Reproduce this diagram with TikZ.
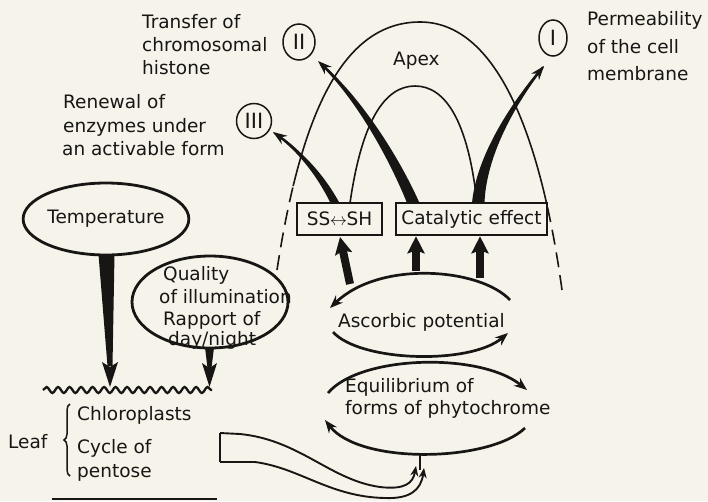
\documentclass[tikz,border=0pt]{standalone}
\usepackage{fontspec}
\setmainfont{DejaVu Sans}
\usetikzlibrary{arrows.meta,decorations.pathmorphing,decorations.pathreplacing,calc,shapes.geometric}
\definecolor{paper}{RGB}{246,243,234}
\definecolor{ink}{RGB}{24,22,20}
\begin{document}
\begin{tikzpicture}[x=1pt,y=-1pt, color=ink,
  txt/.style={inner sep=0pt, anchor=base west, text=ink, font=\fontsize{18.5}{22}\selectfont},
  oval/.style={draw=ink, ellipse, line width=2.8pt, inner sep=0pt, text=ink, font=\fontsize{18.5}{22}\selectfont},
  roman/.style={draw=ink, ellipse, line width=1.5pt, inner sep=0pt, text=ink, font=\fontsize{21}{21}\selectfont},
  box/.style={draw=ink, rectangle, line width=2.6pt, inner sep=0pt, text=ink, font=\fontsize{18.5}{22}\selectfont},
  arcline/.style={draw=ink, line width=1.6pt},
  dashline/.style={draw=ink, line width=1.6pt, dash pattern=on 15pt off 8pt},
  flow/.style={draw=ink, line width=2.7pt, -{Stealth[length=13pt,width=10pt]}},
  fat/.style={draw=ink, line width=8pt, -{Stealth[length=17pt,width=17pt,inset=3pt]}},
  tip/.style={draw=ink, line width=2pt, -{Stealth[length=14pt,width=10pt]}},
  thin/.style={draw=ink, line width=1.9pt},
  thinarrow/.style={draw=ink, line width=1.9pt, -{Stealth[length=10pt,width=8pt]}}]

\fill[paper] (0,0) rectangle (708,501);
\useasboundingbox (0,0) rectangle (708,501);

% ---------- upper left texts ----------
\node[txt] (tr1) at (142,28) {Transfer of};
\node[txt] (tr2) at (142,51) {chromosomal};
\node[txt] (tr3) at (142,74) {histone};
\node[txt] (rn1) at (63,108) {Renewal of};
\node[txt] (rn2) at (63,132) {enzymes under};
\node[txt] (rn3) at (62,155) {an activable form};
\node[txt] (pm1) at (587,25) {Permeability};
\node[txt] (pm2) at (587,53) {of the cell};
\node[txt] (pm3) at (587,80) {membrane};
\node[txt] (apex) at (393,65) {Apex};

% ---------- roman circles ----------
\node[roman, minimum width=28pt, minimum height=36pt] (c1) at (553,38) {I};
\node[roman, minimum width=32pt, minimum height=36pt] (c2) at (299,42) {II};
\node[roman, minimum width=35pt, minimum height=35pt] (c3) at (254,121) {III};

% ---------- apex arcs ----------
\begin{scope}
  \clip (0,0) -- (708,0) -- (708,205) -- (420,205) -- (420,186) -- (0,186) -- cycle;
  \draw[arcline] (277,270) .. controls (300,120) and (340,22) .. (420,22)
                 .. controls (495,22) and (540,130) .. (562,290);
\end{scope}
\begin{scope}
  \clip (0,186) -- (420,186) -- (420,205) -- (708,205) -- (708,501) -- (0,501) -- cycle;
  \draw[dashline] (277,270) .. controls (300,120) and (340,22) .. (420,22);
  \draw[dashline] (562,290) .. controls (540,130) and (495,22) .. (420,22);
\end{scope}
\draw[arcline] (350,203) .. controls (362,120) and (385,86) .. (415,86)
               .. controls (445,86) and (468,120) .. (477,203);

% ---------- boxes ----------
\node[box, minimum width=85pt, minimum height=32pt] (ss) at (339.5,219)
  {SS\kern-0.5pt\raisebox{0.5pt}{\fontsize{17}{17}\selectfont$\leftrightarrow$}\kern-0.5pt SH};
\node[box, minimum width=151pt, minimum height=32pt] (cat) at (471.5,219) {Catalytic effect};

% ---------- tapered curved arrows ----------
\coordinate (b3) at (335,203);
\coordinate (t3) at (273,132);
\draw[tip] (b3) .. controls (322,178) and (302,152) .. (t3);
\fill[ink] (330.5,203) .. controls (318.9,179.6) and (301,153.1) .. (273.5,133.5)
  -- (274.5,132.5) .. controls (303,150.9) and (325.1,176.4) .. (339.5,203) -- cycle;

\coordinate (b2) at (413,203);
\coordinate (t2) at (318,61);
\draw[tip] (b2) .. controls (395,160) and (360,100) .. (t2);
\fill[ink] (407,203) .. controls (390.5,162) and (358,101) .. (320.3,64.7)
  -- (321.7,63.3) .. controls (362.5,99) and (399.5,158) .. (419.5,203) -- cycle;

\coordinate (b1) at (478,203);
\coordinate (t1) at (544,66);
\draw[tip] (b1) .. controls (481,160) and (508,110) .. (t1);
\fill[ink] (472,203) .. controls (476,159.7) and (506,108.9) .. (542.2,66.4)
  -- (543.8,67.6) .. controls (510,111.1) and (486,160.3) .. (484.5,203) -- cycle;

% ---------- ascorbic / phytochrome loops ----------
\coordinate (a1) at (350,284);
\coordinate (a2) at (416,271);
\coordinate (a3) at (480,278);
\draw[fat] (a1) -- (340,237);
\draw[fat] (a2) -- (a2 |- ss.south);
\draw[fat] (a3) -- (a3 |- cat.south);

\draw[flow] (510,300) .. controls (480,268) and (380,260) .. (330,308);
\node[txt] (asc) at (338,327) {Ascorbic potential};
\draw[flow] (333,332) .. controls (360,362) and (470,365) .. (508,333);

\draw[flow] (328,393) .. controls (360,355) and (480,352) .. (527,390);
\node[txt] (eq1) at (345,392) {Equilibrium of};
\node[txt] (eq2) at (345,414) {forms of phytochrome};
\draw[flow] (525,428) .. controls (490,462) and (360,465) .. (325,420);

% ---------- left: temperature & illumination ----------
\node[oval, minimum width=138pt, minimum height=72pt] (temp) at (106,219) {Temperature};
\node[oval, minimum width=156pt, minimum height=92pt] (qual) at (210,302) {};
\node[txt] (q1) at (163,280) {Quality};
\node[txt] (q2) at (159,303) {of illumination};
\node[txt] (q3) at (163,325) {Rapport of};
\node[txt] (q4) at (168,345) {day/night};

\coordinate (w1) at (110,387);
\coordinate (w2) at (209.5,387);
\fill[ink] ($(temp.south)+(-7.5,-2)$) -- ($(temp.south)+(8.5,-2)$) -- (112.5,366) -- (107.5,366) -- cycle;
\fill[ink] (102,362) -- (110,367) -- (118,362) -- (w1) -- cycle;
\fill[ink] ($(qual.south)+(-5,-2)$) -- ($(qual.south)+(4,-2)$) -- (211.5,368) -- (207.5,368) -- cycle;
\fill[ink] (202,363) -- (209.5,368) -- (217,363) -- (w2) -- cycle;

\draw[line width=2.3pt, decorate, decoration={snake, amplitude=3pt, segment length=11.5pt}]
  (43,390) -- (212,390);

% ---------- leaf ----------
\node[txt] (leaf) at (8,448) {Leaf};
\draw[line width=1.5pt, decorate, decoration={brace, amplitude=6pt}] (70,476) -- (70,404);
\node[txt] (lf1) at (77,420) {Chloroplasts};
\node[txt] (lf2) at (77,453) {Cycle of};
\node[txt] (lf3) at (77,477) {pentose};
\draw[line width=2pt] (52,499) -- (217,499);

% ---------- ribbon ----------
\coordinate (r1) at (220,433);
\coordinate (r2) at (220,462);
\draw[thin] (r1) -- (r2);
\draw[thinarrow] (r1) -- (240,434) .. controls (300,440) and (330,480) .. (380,487)
  .. controls (405,490) and (413,483) .. (416,466);
\draw[thinarrow] (r2) -- (255,462) .. controls (300,468) and (330,497) .. (385,498)
  .. controls (410,499) and (421,490) .. (424,468);
\draw[thin] (420,455) -- (420,470);
\end{tikzpicture}
\end{document}
